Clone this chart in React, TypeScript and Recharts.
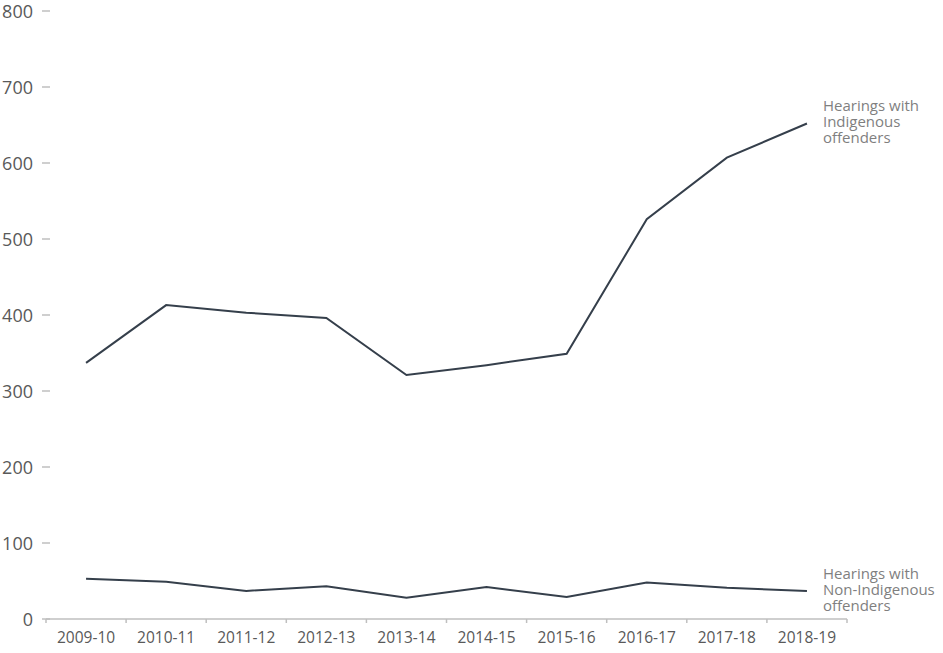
import { LineChart, Line, XAxis, YAxis } from "recharts";

// Financial years on the x axis
const years = [
    "2009-10",
    "2010-11",
    "2011-12",
    "2012-13",
    "2013-14",
    "2014-15",
    "2015-16",
    "2016-17",
    "2017-18",
    "2018-19",
];

// Hearings per year
const indigenous = [337, 413, 403, 396, 321, 334, 349, 526, 607, 652];
const nonIndigenous = [53, 49, 37, 43, 28, 42, 29, 48, 41, 37];

const yTicks = [0, 100, 200, 300, 400, 500, 600, 700, 800];

const seriesLabels = {
    indigenous: ["Hearings with", "Indigenous", "offenders"],
    nonIndigenous: ["Hearings with", "Non-Indigenous", "offenders"],
};

const data = years.map((year, i) => ({
    year,
    indigenous: indigenous[i],
    nonIndigenous: nonIndigenous[i],
}));

// Layout
const WIDTH = 943;
const HEIGHT = 653;
const MARGIN = { top: 11, right: 96, bottom: 0, left: 0 };
const Y_AXIS_WIDTH = 46;
const BAND =
    (WIDTH - MARGIN.left - MARGIN.right - Y_AXIS_WIDTH) / years.length;

const FONT = "'Open Sans', 'Noto Sans', sans-serif";
const LINE_COLOR = "#353f4b";
const AXIS_COLOR = "#bfbfbf";
const TEXT_COLOR = "#595959";
const NOTE_COLOR = "#7f7f7f";

const XTick = (props: any) => {
    const { x, y, payload, index } = props;
    const last = index === years.length - 1;
    return (
        <g>
            <line
                x1={x - BAND / 2}
                x2={x - BAND / 2}
                y1={y}
                y2={y + 4}
                stroke={AXIS_COLOR}
                strokeWidth={1.5}
            />
            {last && (
                <line
                    x1={x + BAND / 2}
                    x2={x + BAND / 2}
                    y1={y}
                    y2={y + 4}
                    stroke={AXIS_COLOR}
                    strokeWidth={1.5}
                />
            )}
            <text
                x={x}
                y={y + 18}
                textAnchor="middle"
                dominantBaseline="central"
                fill={TEXT_COLOR}
                fontSize={15.5}
                fontFamily={FONT}
            >
                {payload.value}
            </text>
        </g>
    );
};

const YTick = (props: any) => {
    const { x, y, payload } = props;
    return (
        <g>
            <line
                x1={x - 4}
                x2={x + 4}
                y1={y}
                y2={y}
                stroke={AXIS_COLOR}
                strokeWidth={1.5}
            />
            <text
                x={x - 13}
                y={y}
                textAnchor="end"
                dominantBaseline="central"
                fill={TEXT_COLOR}
                fontSize={18}
                fontFamily={FONT}
            >
                {payload.value}
            </text>
        </g>
    );
};

// Label next to the last point of a series
const endLabel = (lines: string[]) => (props: any) => {
    const { x, y, index } = props;
    if (index !== years.length - 1) return null;
    return (
        <text
            x={x + 16}
            y={y - 2}
            fill={NOTE_COLOR}
            fontSize={15}
            fontFamily={FONT}
        >
            {lines.map((line, i) => (
                <tspan
                    key={i}
                    x={x + 16}
                    dy={i === 0 ? -16 : 16}
                    dominantBaseline="central"
                >
                    {line}
                </tspan>
            ))}
        </text>
    );
};

export default function App() {
    return (
        <div
            style={{
                position: "absolute",
                left: 0,
                top: 0,
                width: WIDTH,
                height: HEIGHT,
                background: "#fff",
            }}
        >
            <LineChart width={WIDTH} height={HEIGHT} data={data} margin={MARGIN}>
                <XAxis
                    dataKey="year"
                    height={34}
                    padding={{ left: BAND / 2, right: BAND / 2 }}
                    tickLine={false}
                    tickSize={0}
                    tickMargin={0}
                    interval={0}
                    axisLine={{ stroke: AXIS_COLOR, strokeWidth: 1.5 }}
                    tick={<XTick />}
                />
                <YAxis
                    width={Y_AXIS_WIDTH}
                    domain={[0, 800]}
                    ticks={yTicks}
                    interval={0}
                    axisLine={false}
                    tickLine={false}
                    tickSize={0}
                    tickMargin={0}
                    tick={<YTick />}
                />
                <Line
                    dataKey="indigenous"
                    stroke={LINE_COLOR}
                    strokeWidth={2}
                    dot={false}
                    type="linear"
                    isAnimationActive={false}
                    label={endLabel(seriesLabels.indigenous)}
                />
                <Line
                    dataKey="nonIndigenous"
                    stroke={LINE_COLOR}
                    strokeWidth={2}
                    dot={false}
                    type="linear"
                    isAnimationActive={false}
                    label={endLabel(seriesLabels.nonIndigenous)}
                />
            </LineChart>
        </div>
    );
}
